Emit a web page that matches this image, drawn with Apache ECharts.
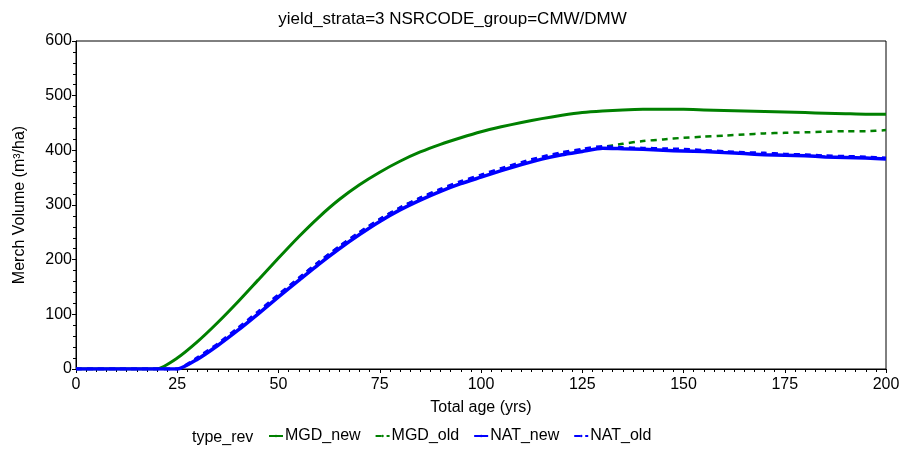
<!DOCTYPE html>
<html>
<head>
<meta charset="utf-8">
<script src="https://cdn.jsdelivr.net/npm/echarts@6/dist/echarts.min.js"></script>
<style>
  html, body { margin: 0; padding: 0; background: #fff; }
  #chart { width: 905px; height: 455px; }
</style>
</head>
<body>
<div id="chart"></div>
<script>
// ages every 5 years, 0..200
var ages = [0, 5, 10, 15, 20, 25, 30, 35, 40, 45, 50, 55, 60, 65, 70, 75, 80, 85, 90, 95, 100,
            105, 110, 115, 120, 125, 130, 135, 140, 145, 150, 155, 160, 165, 170, 175, 180, 185, 190, 195, 200];

var mgdNew = [0, 0, 0, 0, 0, 20, 50, 85, 123, 163, 203, 242, 278, 310, 337, 360, 380, 397, 411, 423, 434,
              443, 451, 458, 464, 469, 472, 474, 475, 475, 475, 474, 473, 472, 471, 470, 469, 468, 467, 466, 466];

var mgdOld = [0, 0, 0, 0, 0, 0, 19, 44, 73, 104, 135, 166, 196, 224, 250, 274, 295, 313, 328, 341, 353,
              365, 376, 386, 394, 400, 406, 412, 417, 420, 423, 425, 427, 429, 431, 432, 433, 434, 435, 435, 437];

var natNew = [0, 0, 0, 0, 0, 0, 18, 43, 71, 101, 132, 162, 192, 220, 246, 270, 291, 309, 325, 339, 351,
              363, 374, 384, 392, 398, 404, 403, 402, 400, 399, 398, 396, 394, 392, 391, 390, 388, 387, 386, 384];

var natOld = [0, 0, 0, 0, 0, 0, 21, 46, 75, 105, 136, 166, 196, 224, 250, 274, 295, 313, 329, 343, 355,
              367, 378, 388, 396, 402, 407, 405, 404, 403, 402, 400, 398, 396, 395, 393, 392, 390, 389, 388, 386];

var names = ['MGD_new', 'MGD_old', 'NAT_new', 'NAT_old'];

function pairs(vals) {
    return ages.map(function (a, i) { return [a, vals[i]]; });
}

var green = '#008000', blue = '#0000ff';
var font = 'Liberation Sans, Arial, sans-serif';

var chart = echarts.init(document.getElementById('chart'), null, { renderer: 'canvas' });

function mkSeries(name, vals, color, dashed, width, z) {
    return {
        name: name,
        type: 'line',
        data: pairs(vals),
        symbol: 'none',
        smooth: 0.2,
        z: z,
        lineStyle: { color: color, width: width, type: dashed ? [6, 5] : 'solid' },
        itemStyle: { color: color },
        animation: false
    };
}

var option = {
    backgroundColor: '#fff',
    title: {
        text: 'yield_strata=3 NSRCODE_group=CMW/DMW',
        left: 'center',
        top: 6,
        textStyle: { fontFamily: font, fontSize: 17, fontWeight: 'normal', color: '#000' }
    },
    grid: {
        left: 76, right: 19, top: 41, bottom: 86,
        show: true, borderColor: '#000', borderWidth: 1
    },
    legend: {
        data: names,
        bottom: 6,
        left: 263,
        itemWidth: 14,
        itemHeight: 3,
        itemGap: 14,
        textStyle: { fontFamily: font, fontSize: 16, color: '#000', padding: [0, 0, 0, -3] }
    },
    graphic: [{
        type: 'text',
        left: 192,
        bottom: 9,
        style: { text: 'type_rev', font: '16px ' + font, fill: '#000' }
    }],
    xAxis: {
        type: 'value',
        min: 0, max: 200, interval: 25,
        name: 'Total age (yrs)',
        nameLocation: 'middle',
        nameGap: 31,
        nameTextStyle: { fontFamily: font, fontSize: 16, color: '#000' },
        axisLine: { show: true, onZero: false, lineStyle: { color: '#000' } },
        axisTick: { show: true, length: 4, lineStyle: { color: '#000' } },
        minorTick: { show: true, splitNumber: 10, length: 3, lineStyle: { color: '#000' } },
        axisLabel: { fontFamily: font, fontSize: 16, color: '#000', margin: 8 },
        splitLine: { show: false }
    },
    yAxis: {
        type: 'value',
        min: 0, max: 600, interval: 100,
        name: 'Merch Volume (m³/ha)',
        nameLocation: 'middle',
        nameGap: 48,
        nameTextStyle: { fontFamily: font, fontSize: 16, color: '#000' },
        axisLine: { show: true, onZero: false, lineStyle: { color: '#000' } },
        axisTick: { show: true, length: 4, lineStyle: { color: '#000' } },
        minorTick: { show: true, splitNumber: 5, length: 3, lineStyle: { color: '#000' } },
        axisLabel: { fontFamily: font, fontSize: 16, color: '#000', margin: 4 },
        splitLine: { show: false }
    },
    series: [
        mkSeries('MGD_new', mgdNew, green, false, 3, 3),
        mkSeries('MGD_old', mgdOld, green, true, 2.5, 2),
        mkSeries('NAT_new', natNew, blue, false, 3.5, 4),
        mkSeries('NAT_old', natOld, blue, true, 3, 5)
    ]
};

chart.setOption(option);
</script>
</body>
</html>
